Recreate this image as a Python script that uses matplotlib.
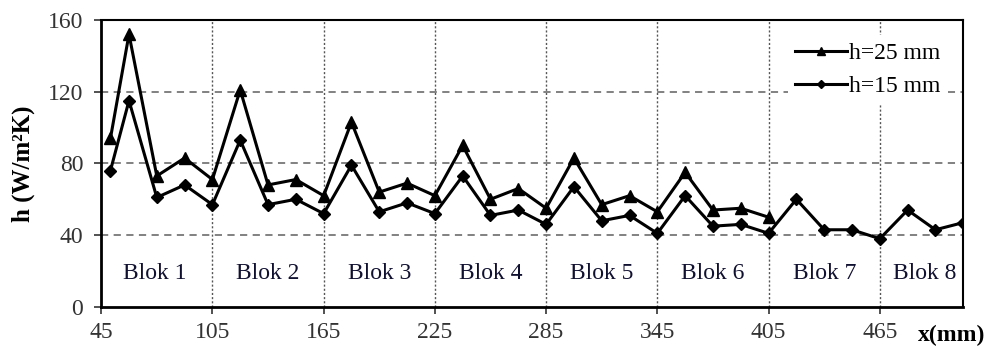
import numpy as np
import matplotlib.pyplot as plt

plt.rcParams['font.family'] = ['Liberation Serif', 'DejaVu Serif']

# positions along the channel (mm)
x_h25 = [50, 60, 75, 90, 105, 120, 135, 150, 165, 180, 195, 210, 225,
         240, 255, 270, 285, 300, 315, 330, 345, 360, 375, 390, 405]
h25 = [94, 152, 73, 83, 71, 121, 68, 71, 62, 103, 64, 69, 62,
       90, 60, 66, 55, 83, 57, 62, 53, 75, 54, 55, 50]

x_h15 = [50, 60, 75, 90, 105, 120, 135, 150, 165, 180, 195, 210, 225,
         240, 255, 270, 285, 300, 315, 330, 345, 360, 375, 390, 405,
         420, 435, 450, 465, 480, 495, 510]
h15 = [76, 115, 61, 68, 57, 93, 57, 60, 52, 79, 53, 58, 52,
       73, 51, 54, 46, 67, 48, 51, 41, 62, 45, 46, 41,
       60, 43, 43, 38, 54, 43, 47]

block_labels = ["Blok 1", "Blok 2", "Blok 3", "Blok 4",
                "Blok 5", "Blok 6", "Blok 7", "Blok 8"]
block_x = [74, 135, 195, 255, 315, 375, 435, 489]

xticks = [45, 105, 165, 225, 285, 345, 405, 465]
yticks = [0, 40, 80, 120, 160]


def main():
    fig = plt.figure(figsize=(9.92, 3.56), dpi=100)
    ax = fig.add_axes([0.102, 0.138, 0.869, 0.806])

    ax.plot(x_h25, h25, color="black", lw=2.2, marker="^", ms=9,
            label="h=25 mm", zorder=3)
    ax.plot(x_h15, h15, color="black", lw=2.2, marker="D", ms=6.5,
            label="h=15 mm", zorder=3)

    for xv in xticks[1:]:
        ax.axvline(xv, color="#555555", lw=1, ls=(0, (1.5, 1.5)), zorder=1)
    for yv in yticks[1:-1]:
        ax.axhline(yv, color="#777777", lw=1.3, ls=(0, (4, 3)), zorder=1)

    for lbl, bx in zip(block_labels, block_x):
        ax.text(bx, 18.5, lbl, ha="center", va="center", fontsize=17,
                color="#101030")

    ax.set_xlim(45, 510)
    ax.set_ylim(0, 160)
    ax.set_xticks(xticks)
    ax.set_yticks(yticks)
    ax.tick_params(labelsize=17, direction="out", length=5, width=1.2,
                   colors="#333333", labelcolor="#333333")
    ax.tick_params(axis="y", pad=8)
    ax.tick_params(axis="x", pad=6)
    for side in ["top", "right"]:
        ax.spines[side].set_linewidth(1.5)
    for side in ["left", "bottom"]:
        ax.spines[side].set_linewidth(2)

    ax.set_ylabel("h (W/m²K)", fontsize=18, fontweight="bold", labelpad=9)
    fig.text(0.959, 0.059, "x(mm)", fontsize=17, fontweight="bold",
             ha="center", va="center")

    leg = ax.legend(loc="upper right", fontsize=17, frameon=True,
                    edgecolor="none", facecolor="white", framealpha=1,
                    handlelength=2.2, handletextpad=0.1, markerscale=0.65,
                    borderaxespad=0.65, labelspacing=0.5, fancybox=False,
                    borderpad=0.3)
    leg.set_zorder(5)

    fig.savefig("out.png", dpi=100)


if __name__ == "__main__":
    main()
